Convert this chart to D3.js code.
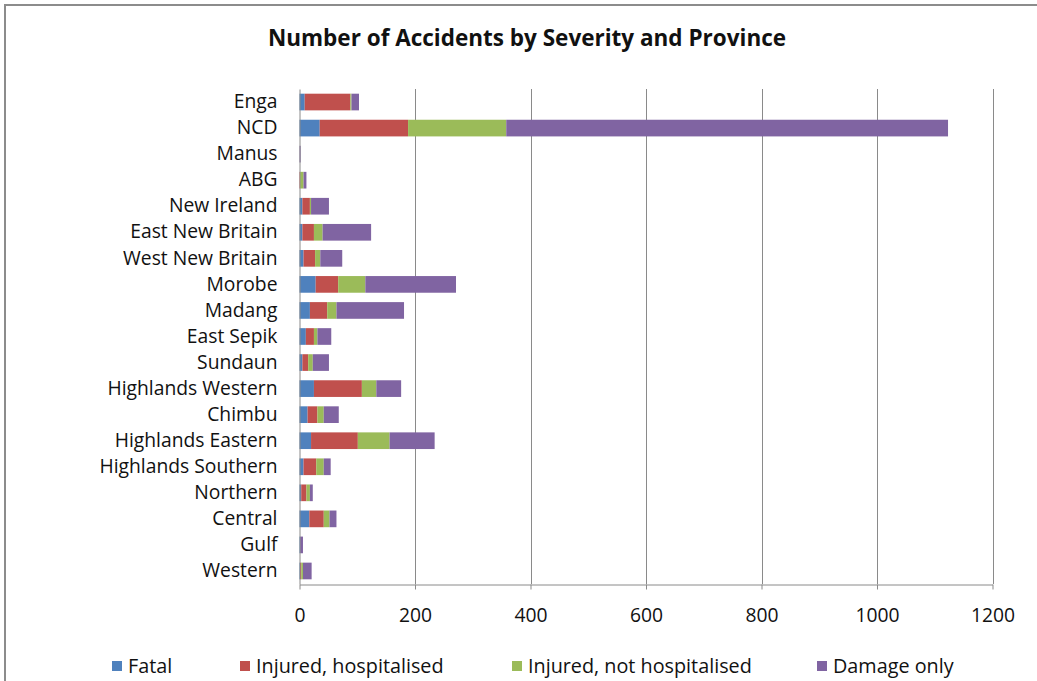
<!DOCTYPE html>
<html>
<head>
<meta charset="utf-8">
<script src="https://cdn.jsdelivr.net/npm/d3@7/dist/d3.min.js"></script>
<style>
  html, body { margin: 0; padding: 0; background: #fff; }
  svg { display: block; }
  text { font-family: "Open Sans", "Liberation Sans", sans-serif; fill: #111; }
</style>
</head>
<body>
<svg id="chart" width="1037" height="681"></svg>
<script>
// Provinces, top to bottom
const provinces = [
  "Enga", "NCD", "Manus", "ABG", "New Ireland", "East New Britain",
  "West New Britain", "Morobe", "Madang", "East Sepik", "Sundaun",
  "Highlands Western", "Chimbu", "Highlands Eastern", "Highlands Southern",
  "Northern", "Central", "Gulf", "Western"
];

// Accident counts per province, one array per severity
const fatal        = [9, 35, 0, 0, 5, 5, 7, 28, 18, 11, 5, 25, 14, 20, 7, 3, 17, 1, 1];
const injuredHosp  = [79, 153, 0, 1, 13, 20, 20, 39, 30, 14, 10, 83, 17, 81, 22, 9, 25, 0, 2];
const injuredNot   = [2, 170, 0, 6, 2, 15, 9, 47, 16, 6, 8, 25, 11, 55, 13, 6, 10, 0, 3];
const damageOnly   = [13, 765, 2, 5, 31, 84, 38, 157, 117, 24, 28, 43, 26, 78, 12, 5, 12, 5, 15];

const seriesNames  = ["Fatal", "Injured, hospitalised", "Injured, not hospitalised", "Damage only"];
const seriesColors = ["#4F81BD", "#C0504D", "#9BBB59", "#8064A2"];
const xTicks       = [0, 200, 400, 600, 800, 1000, 1200];

const labelSize = "19.3px";
const svg = d3.select("#chart");

// outer frame
svg.append("path")
  .attr("d", "M5,700 V5 H1050")
  .attr("fill", "none").attr("stroke", "#8c8c8c").attr("stroke-width", 2);

// title
svg.append("text")
  .attr("x", 527).attr("y", 46)
  .attr("text-anchor", "middle")
  .style("font-size", "22.5px").style("font-weight", "bold")
  .text("Number of Accidents by Severity and Province");

const rows = provinces.map((p, i) => ({
  province: p,
  "Fatal": fatal[i],
  "Injured, hospitalised": injuredHosp[i],
  "Injured, not hospitalised": injuredNot[i],
  "Damage only": damageOnly[i]
}));

const stacked = d3.stack().keys(seriesNames)(rows);

const x = d3.scaleLinear().domain([0, 1200]).range([299.5, 992.5]);
const y = d3.scaleBand().domain(provinces).range([89, 584])
  .paddingInner(0.36).paddingOuter(0.18);

// vertical gridlines
svg.append("g").selectAll("line")
  .data(xTicks.slice(1))
  .join("line")
  .attr("x1", d => Math.round(x(d)) + 0.5).attr("x2", d => Math.round(x(d)) + 0.5)
  .attr("y1", 89).attr("y2", 584)
  .attr("stroke", "#8a8a8a").attr("stroke-width", 1);

// stacked bars
svg.append("g").selectAll("g")
  .data(stacked)
  .join("g")
  .attr("fill", (d, i) => seriesColors[i])
  .selectAll("rect")
  .data(d => d)
  .join("rect")
  .attr("x", d => x(d[0]))
  .attr("width", d => Math.max(0, x(d[1]) - x(d[0])))
  .attr("y", d => y(d.data.province))
  .attr("height", y.bandwidth());

// x axis: baseline with outward ticks, labels below
const xAxis = svg.append("g")
  .attr("transform", "translate(0,584.5)")
  .call(d3.axisBottom(x).tickValues(xTicks).tickFormat(d3.format("d"))
    .tickSize(5).tickSizeOuter(0).tickPadding(19));
xAxis.select(".domain").attr("stroke", "#8a8a8a");
xAxis.selectAll(".tick line").attr("stroke", "#8a8a8a");
xAxis.selectAll(".tick text")
  .style("font-size", labelSize).style("font-family", "'Open Sans', sans-serif").attr("fill", "#111");

// y axis: vertical line and category names
const yAxis = svg.append("g")
  .attr("transform", "translate(299.5,0)")
  .call(d3.axisLeft(y).tickSize(0).tickPadding(22));
yAxis.select(".domain").attr("stroke", "#8a8a8a");
yAxis.selectAll(".tick text")
  .style("font-size", labelSize).style("font-family", "'Open Sans', sans-serif").attr("fill", "#111");

// legend
const legendX = [112, 240, 512, 817];
const legend = svg.append("g").selectAll("g")
  .data(seriesNames)
  .join("g")
  .attr("transform", (d, i) => `translate(${legendX[i]},661)`);
legend.append("rect")
  .attr("width", 10).attr("height", 10)
  .attr("fill", (d, i) => seriesColors[i]);
legend.append("text")
  .attr("x", 16).attr("y", 12)
  .style("font-size", "19.8px")
  .text(d => d);
</script>
</body>
</html>
